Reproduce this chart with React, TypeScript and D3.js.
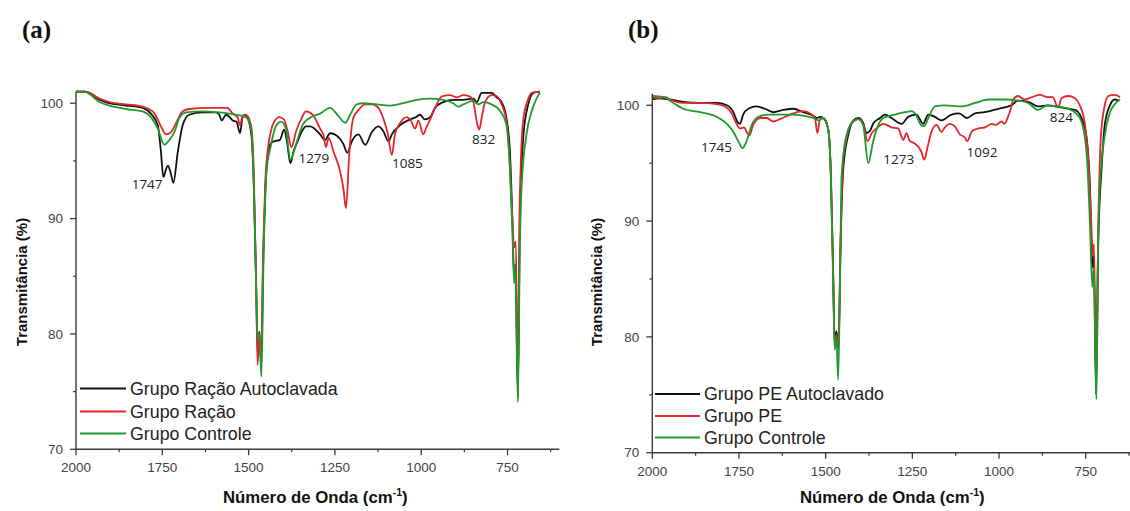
import React from "react";
import * as d3 from "d3";

type Pt = [number, number];

// ---------- Panel (a) data: [wavenumber cm-1, transmittance %] ----------
const aRacaoAutoclavada: Pt[] = [
  [2000, 101.0], [1975, 101.0], [1961, 100.9], [1932, 100.3], [1903, 100.0], [1855, 99.8], [1807, 99.6],
  [1783, 99.1], [1763, 98.1], [1754, 95.8], [1747, 93.6], [1740, 94.2], [1734, 94.6], [1726, 94.0],
  [1718, 93.1], [1705, 95.8], [1691, 98.1], [1672, 99.0], [1633, 99.2], [1594, 99.2], [1585, 99.0],
  [1578, 98.5], [1565, 99.0], [1555, 98.8], [1546, 98.5], [1535, 98.4], [1525, 97.4], [1517, 98.8],
  [1508, 98.9], [1493, 97.5], [1485, 93.0], [1478, 84.0], [1474, 78.5], [1469, 80.2], [1463, 77.2],
  [1458, 86.0], [1452, 92.0], [1445, 95.5], [1436, 96.5], [1426, 96.7], [1410, 96.8], [1397, 97.7],
  [1388, 96.5], [1379, 94.8], [1370, 95.8], [1358, 96.7], [1345, 97.6], [1334, 98.0], [1322, 98.0],
  [1293, 97.3], [1279, 96.8], [1264, 97.4], [1245, 97.2], [1226, 96.5], [1214, 95.7], [1201, 96.7],
  [1182, 97.3], [1162, 96.4], [1143, 97.5], [1124, 98.0], [1110, 97.6], [1095, 96.7], [1085, 97.3],
  [1061, 98.1], [1032, 98.6], [1015, 98.8], [1003, 99.0], [990, 98.6], [974, 98.8], [960, 99.6],
  [936, 100.1], [907, 100.3], [878, 100.3], [849, 100.4], [839, 100.1], [825, 100.9], [796, 100.9],
  [781, 100.5], [767, 100.1], [753, 98.7], [743, 95.8], [736, 90.0], [731, 85.0], [727, 86.0],
  [720, 75.0], [715, 88.0], [710, 94.0], [704, 97.2], [690, 99.9], [675, 100.9], [656, 101.0],
];

const aRacao: Pt[] = [
  [2000, 101.0], [1975, 101.0], [1961, 100.9], [1932, 100.4], [1903, 100.1], [1855, 99.9], [1807, 99.7],
  [1778, 99.3], [1765, 98.7], [1754, 98.0], [1739, 97.3], [1725, 97.5], [1710, 98.3], [1691, 99.3],
  [1672, 99.5], [1614, 99.6], [1561, 99.6], [1546, 99.1], [1532, 98.8], [1525, 98.1], [1517, 98.9],
  [1508, 99.0], [1493, 98.1], [1485, 94.0], [1478, 84.0], [1474, 77.3], [1469, 80.0], [1464, 78.0],
  [1458, 87.0], [1452, 93.0], [1445, 95.8], [1436, 97.5], [1426, 98.4], [1411, 98.8], [1398, 98.6],
  [1387, 97.6], [1376, 96.2], [1362, 97.6], [1345, 98.8], [1334, 99.3], [1314, 99.0], [1293, 97.8],
  [1283, 97.2], [1276, 96.2], [1268, 97.0], [1254, 95.8], [1235, 94.1], [1225, 92.5], [1218, 90.9],
  [1208, 95.8], [1197, 98.7], [1182, 99.4], [1162, 99.9], [1143, 99.9], [1124, 99.6], [1110, 98.7],
  [1098, 97.5], [1085, 95.5], [1076, 97.3], [1061, 98.3], [1042, 98.8], [1030, 98.5], [1018, 97.8],
  [1008, 98.5], [994, 97.3], [985, 97.9], [974, 98.6], [960, 99.6], [940, 100.6], [916, 100.7],
  [897, 100.5], [878, 100.7], [860, 100.6], [849, 100.1], [839, 98.4], [832, 97.7], [825, 98.7],
  [815, 100.1], [796, 100.7], [781, 100.6], [767, 99.9], [753, 98.4], [743, 94.4], [736, 90.0],
  [731, 87.5], [726, 88.0], [720, 74.5], [716, 89.0], [712, 94.4], [704, 98.7], [693, 100.1],
  [680, 100.9], [656, 101.0],
];

const aControle: Pt[] = [
  [2000, 101.0], [1975, 101.0], [1961, 100.8], [1932, 100.1], [1903, 99.8], [1855, 99.5], [1807, 99.3],
  [1783, 98.8], [1763, 97.8], [1744, 96.4], [1730, 96.8], [1715, 97.5], [1701, 98.7], [1681, 99.2],
  [1633, 99.3], [1584, 99.2], [1536, 99.0], [1508, 98.8], [1493, 97.8], [1485, 93.0], [1478, 84.0],
  [1474, 79.5], [1469, 80.0], [1463, 76.3], [1457, 86.0], [1449, 93.8], [1435, 96.4], [1421, 98.0],
  [1406, 98.4], [1392, 97.8], [1379, 95.1], [1362, 96.5], [1344, 98.1], [1324, 98.7], [1293, 99.1],
  [1264, 99.6], [1240, 98.9], [1220, 98.3], [1206, 99.0], [1187, 99.9], [1168, 100.0], [1129, 99.9],
  [1091, 99.8], [1052, 100.0], [1013, 100.3], [974, 100.4], [936, 100.3], [907, 100.0], [893, 99.7],
  [878, 99.9], [849, 100.2], [835, 99.9], [820, 100.1], [796, 99.9], [773, 99.4], [753, 98.1],
  [743, 94.4], [736, 89.0], [731, 84.4], [728, 86.0], [720, 74.1], [714, 88.0], [709, 92.9],
  [695, 97.3], [680, 99.3], [666, 100.4], [656, 100.9],
];

// ---------- Panel (b) data ----------
const bPeAutoclavado: Pt[] = [
  [2000, 100.5], [1980, 100.6], [1949, 100.5], [1911, 100.3], [1862, 100.2], [1814, 100.2], [1785, 100.0],
  [1766, 99.4], [1755, 98.6], [1747, 98.4], [1738, 99.2], [1723, 99.7], [1699, 99.9], [1675, 99.7],
  [1651, 99.4], [1622, 99.6], [1593, 99.7], [1565, 99.4], [1536, 99.1], [1526, 98.9], [1516, 99.0],
  [1507, 98.9], [1493, 98.0], [1485, 94.0], [1478, 85.0], [1474, 79.5], [1469, 80.5], [1463, 79.0],
  [1457, 88.0], [1449, 94.6], [1435, 97.4], [1420, 98.7], [1406, 98.9], [1392, 98.5], [1382, 97.6],
  [1372, 97.8], [1363, 98.4], [1343, 98.9], [1329, 99.2], [1310, 98.9], [1281, 98.4], [1262, 99.0],
  [1238, 99.2], [1219, 98.4], [1204, 99.2], [1185, 99.0], [1166, 98.7], [1137, 99.2], [1115, 99.3],
  [1093, 98.9], [1069, 99.3], [1041, 99.4], [1002, 99.7], [964, 100.0], [945, 100.4], [916, 100.3],
  [887, 99.9], [860, 100.0], [839, 99.9], [800, 99.7], [781, 99.6], [762, 98.9], [747, 97.1],
  [738, 93.1], [731, 86.0], [727, 87.0], [720, 75.0], [714, 88.0], [704, 94.6], [695, 98.3],
  [680, 100.0], [666, 100.5], [655, 100.4],
];

const bPe: Pt[] = [
  [2000, 100.7], [1980, 100.6], [1963, 100.7], [1949, 100.5], [1911, 100.2], [1862, 100.2], [1814, 100.1],
  [1790, 99.9], [1771, 99.3], [1757, 98.4], [1747, 98.0], [1735, 98.1], [1728, 97.7], [1720, 97.4],
  [1709, 98.3], [1689, 98.9], [1670, 98.9], [1651, 98.6], [1632, 98.8], [1603, 99.2], [1565, 99.5],
  [1545, 99.3], [1531, 98.9], [1524, 97.6], [1516, 98.8], [1507, 98.9], [1493, 98.0], [1485, 94.0],
  [1478, 85.0], [1474, 79.2], [1469, 80.2], [1463, 78.9], [1457, 88.0], [1449, 95.7], [1435, 97.9],
  [1420, 98.6], [1406, 98.8], [1392, 98.4], [1379, 96.9], [1367, 97.6], [1353, 98.0], [1334, 98.4],
  [1310, 98.1], [1291, 98.0], [1276, 97.0], [1267, 97.6], [1257, 96.9], [1243, 96.7], [1224, 96.0],
  [1216, 95.3], [1206, 96.4], [1195, 97.7], [1180, 98.3], [1166, 97.7], [1156, 98.1], [1142, 98.4],
  [1128, 98.2], [1113, 97.5], [1098, 97.2], [1092, 96.9], [1077, 97.8], [1060, 98.0], [1040, 98.1],
  [1021, 98.4], [1008, 98.3], [993, 98.6], [985, 98.4], [974, 99.0], [966, 99.7], [959, 100.5],
  [945, 100.8], [927, 100.5], [905, 100.7], [882, 100.9], [860, 100.7], [845, 100.7], [834, 100.0],
  [829, 99.8], [820, 100.6], [800, 100.8], [781, 100.6], [767, 100.0], [752, 98.3], [741, 94.6],
  [734, 90.0], [730, 87.1], [726, 88.0], [720, 76.0], [714, 89.0], [706, 97.4], [695, 100.0],
  [685, 100.8], [666, 100.9], [651, 100.7],
];

const bControle: Pt[] = [
  [2000, 100.8], [1968, 100.7], [1939, 100.2], [1911, 99.7], [1862, 99.4], [1814, 99.0], [1785, 98.4],
  [1766, 97.7], [1752, 96.9], [1740, 96.3], [1728, 96.9], [1713, 98.3], [1694, 99.0], [1666, 99.2],
  [1600, 99.2], [1565, 99.1], [1536, 98.9], [1521, 98.7], [1507, 98.9], [1493, 98.0], [1485, 94.0],
  [1478, 84.0], [1474, 78.9], [1469, 80.0], [1464, 76.3], [1458, 86.0], [1454, 94.0], [1440, 97.1],
  [1425, 98.5], [1406, 98.8], [1392, 98.3], [1377, 95.0], [1363, 96.9], [1348, 98.3], [1334, 98.9],
  [1300, 99.2], [1271, 99.4], [1252, 99.5], [1240, 99.2], [1225, 98.3], [1216, 98.2], [1204, 98.9],
  [1185, 99.9], [1156, 100.0], [1108, 99.9], [1069, 100.2], [1031, 100.5], [983, 100.5], [945, 100.4],
  [916, 100.2], [887, 99.6], [860, 100.0], [830, 99.9], [800, 99.7], [778, 99.3], [762, 98.6],
  [747, 95.7], [738, 90.0], [731, 84.3], [727, 86.0], [719, 74.6], [714, 88.0], [709, 93.1],
  [695, 97.4], [680, 99.4], [666, 100.1], [651, 100.5],
];

// ---------- Axes / labels ----------
const xMajorTicks = [2000, 1750, 1500, 1250, 1000, 750];
const xMinorTicks = [1875, 1625, 1375, 1125, 875, 625];
const yMajorTicks = [70, 80, 90, 100];
const yMinorTicks = [75, 85, 95];
const xDomain: [number, number] = [2000, 600];
const yDomain: [number, number] = [70, 101];

const legendA = ["Grupo Ração Autoclavada", "Grupo Ração", "Grupo Controle"];
const legendB = ["Grupo PE Autoclavado", "Grupo PE", "Grupo Controle"];
const peaksA: { label: string; w: number; v: number }[] = [
  { label: "1747", w: 1794, v: 93.0 },
  { label: "1279", w: 1311, v: 95.26 },
  { label: "1085", w: 1040, v: 94.82 },
  { label: "832", w: 819, v: 96.9 },
];
const peaksB: { label: string; w: number; v: number }[] = [
  { label: "1745", w: 1815, v: 96.4 },
  { label: "1273", w: 1289, v: 95.36 },
  { label: "1092", w: 1049, v: 95.97 },
  { label: "824", w: 820, v: 98.99 },
];

const COLORS = ["#111111", "#e3262b", "#1f9a2c"];

interface PanelProps {
  tag: string;
  tagX: number;
  left: number;
  right: number;
  top: number;
  bottom: number;
  series: Pt[][];
  legend: string[];
  legendX: number;
  legendLineW: number;
  legendY: number[];
  peaks: { label: string; w: number; v: number }[];
  yLabelX: number;
  xLabelX: number;
}

function Panel(p: PanelProps) {
  const x = d3.scaleLinear().domain(xDomain).range([p.left, p.right]);
  const y = d3.scaleLinear().domain(yDomain).range([p.bottom, p.top]);
  const line = d3
    .line<Pt>()
    .x((d) => x(d[0]))
    .y((d) => y(d[1]))
    .curve(d3.curveMonotoneX);
  const axisColor = "#3a3a3a";
  const tickFont = { fontFamily: "Liberation Sans, Arial, sans-serif", fontSize: 13.5, fill: "#444" };
  return (
    <g>
      <text x={p.tagX} y={38} fontFamily="Liberation Serif, Times New Roman, serif" fontWeight="bold" fontSize={25} fill="#111">
        {p.tag}
      </text>
      {p.series.map((s, i) => (
        <path key={i} d={line(s) || ""} fill="none" stroke={COLORS[i]} strokeWidth={1.8} strokeLinejoin="round" />
      ))}
      <line x1={p.left} x2={p.left} y1={y(yDomain[1])} y2={p.bottom} stroke={axisColor} strokeWidth={1.4} />
      <line x1={p.left} x2={x(xDomain[1])} y1={p.bottom} y2={p.bottom} stroke={axisColor} strokeWidth={1.4} />
      {yMajorTicks.map((t) => (
        <g key={"ym" + t}>
          <line x1={p.left - 6} x2={p.left} y1={y(t)} y2={y(t)} stroke={axisColor} strokeWidth={1.3} />
          <text x={p.left - 13} y={y(t)} dy="0.35em" textAnchor="end" {...tickFont}>
            {t}
          </text>
        </g>
      ))}
      {yMinorTicks.map((t) => (
        <line key={"yn" + t} x1={p.left - 3} x2={p.left} y1={y(t)} y2={y(t)} stroke={axisColor} strokeWidth={1.2} />
      ))}
      {xMajorTicks.map((t) => (
        <g key={"xm" + t}>
          <line x1={x(t)} x2={x(t)} y1={p.bottom} y2={p.bottom + 6} stroke={axisColor} strokeWidth={1.3} />
          <text x={x(t)} y={p.bottom + 23} textAnchor="middle" {...tickFont}>
            {t}
          </text>
        </g>
      ))}
      {xMinorTicks.map((t) => (
        <line key={"xn" + t} x1={x(t)} x2={x(t)} y1={p.bottom} y2={p.bottom + 3} stroke={axisColor} strokeWidth={1.2} />
      ))}
      <text
        transform={`translate(${p.yLabelX},282) rotate(-90)`}
        textAnchor="middle"
        dy="0.35em"
        fontFamily="Liberation Sans, Arial, sans-serif"
        fontWeight="bold"
        fontSize={15}
        fill="#111"
      >
        Transmitância (%)
      </text>
      <text x={p.xLabelX} y={503} fontFamily="Liberation Sans, Arial, sans-serif" fontWeight="bold" fontSize={16.8} fill="#111">
        Número de Onda (cm
        <tspan fontSize={10.5} dy={-7}>
          -1
        </tspan>
        <tspan dy={7}>)</tspan>
      </text>
      {p.peaks.map((pk) => (
        <text
          key={pk.label}
          x={x(pk.w)}
          y={y(pk.v)}
          dy="0.36em"
          textAnchor="middle"
          fontFamily="Open Sans, Liberation Sans, sans-serif"
          fontSize={13.5}
          fill="#222"
        >
          {pk.label}
        </text>
      ))}
      {p.legend.map((name, i) => (
        <g key={name}>
          <line
            x1={p.legendX}
            x2={p.legendX + p.legendLineW}
            y1={p.legendY[i]}
            y2={p.legendY[i]}
            stroke={COLORS[i]}
            strokeWidth={2}
          />
          <text
            x={p.legendX + p.legendLineW + 4}
            y={p.legendY[i]}
            dy="0.36em"
            fontFamily="Liberation Sans, Arial, sans-serif"
            fontSize={17.8}
            fill="#222"
          >
            {name}
          </text>
        </g>
      ))}
    </g>
  );
}

export default function App() {
  return (
    <svg
      width={1130}
      height={511}
      style={{ position: "absolute", left: 0, top: 0, background: "#fff" }}
      xmlns="http://www.w3.org/2000/svg"
    >
      <rect x={0} y={0} width={1130} height={511} fill="#fff" />
      <Panel
        tag="(a)"
        tagX={22}
        left={76}
        right={559.3}
        top={91.7}
        bottom={449.3}
        series={[aRacaoAutoclavada, aRacao, aControle]}
        legend={legendA}
        legendX={80}
        legendLineW={46}
        legendY={[388.5, 411.5, 433.5]}
        peaks={peaksA}
        yLabelX={22}
        xLabelX={223}
      />
      <Panel
        tag="(b)"
        tagX={628}
        left={652.3}
        right={1137.7}
        top={93.7}
        bottom={452.7}
        series={[bPeAutoclavado, bPe, bControle]}
        legend={legendB}
        legendX={655}
        legendLineW={45}
        legendY={[394, 416, 437.5]}
        peaks={peaksB}
        yLabelX={597}
        xLabelX={800}
      />
    </svg>
  );
}
